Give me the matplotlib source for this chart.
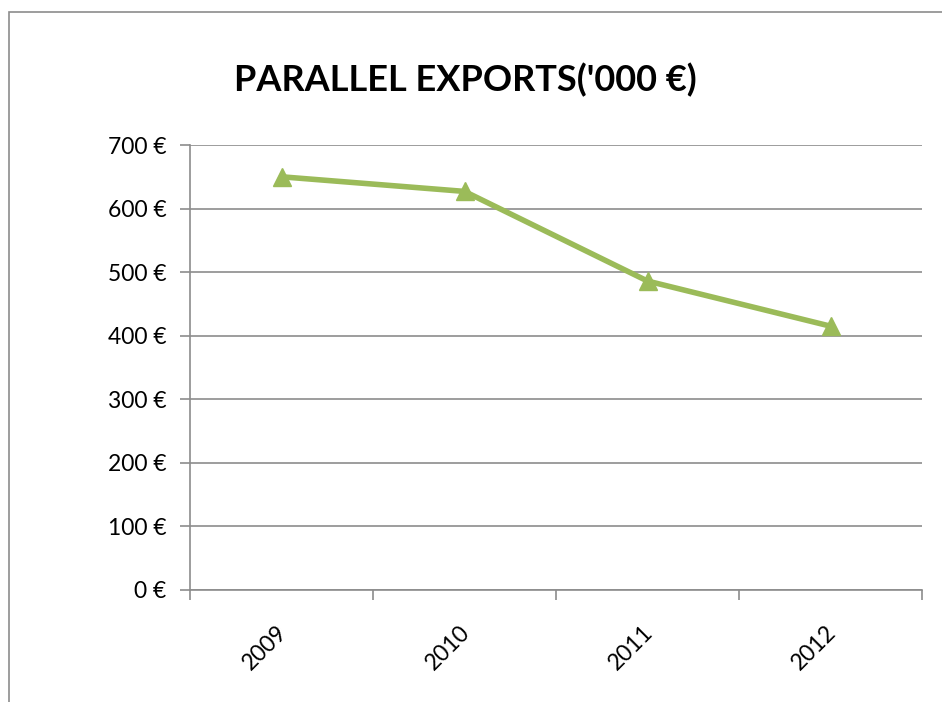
import matplotlib
matplotlib.use("Agg")
import matplotlib.pyplot as plt
import matplotlib.transforms as mtransforms
from matplotlib.patches import Rectangle

years = ["2009", "2010", "2011", "2012"]
values = [650, 627, 486, 415]
yticks = [0, 100, 200, 300, 400, 500, 600, 700]
ytick_labels = [f"{v} €" for v in yticks]
title = "PARALLEL EXPORTS('000 €)"

W, H = 942, 702
fig = plt.figure(figsize=(W / 100, H / 100), dpi=100)
fig.patch.set_facecolor("white")

# outer chart border (clipped by image edge)
fig.patches.append(Rectangle((9 / W, -0.1), 1.2, 1 - 12 / H + 0.1,
                             transform=fig.transFigure, fill=False,
                             edgecolor="#8c8c8c", linewidth=1.2))

ax = fig.add_axes([190 / W, 1 - 590 / H, (922 - 190) / W, (590 - 145) / H])
x = list(range(len(years)))
ax.plot(x, values, color="#9BBB59", linewidth=4, marker="^", markersize=13,
        markeredgecolor="#9BBB59", markerfacecolor="#9BBB59", zorder=3,
        solid_capstyle="round")

ax.set_xlim(-0.5, len(years) - 0.5)
ax.set_ylim(0, 700)
ax.set_yticks(yticks)
ax.set_yticklabels(ytick_labels, fontfamily="Lato", fontsize=16.5)
ax.set_xticks(x)
ax.set_xticklabels(years, fontfamily="Lato", fontsize=16.5, rotation=45,
                   ha="center", va="top")
ax.set_xticks([i - 0.5 for i in range(len(years) + 1)], minor=True)
ax.tick_params(axis="x", which="major", length=0, pad=23)
ax.tick_params(axis="x", which="minor", length=7, color="#8c8c8c", width=1.2)
ax.tick_params(axis="y", length=7, color="#8c8c8c", width=1.2, pad=10)
ax.grid(axis="y", color="#8c8c8c", linewidth=1.2)
ax.set_axisbelow(True)
for s in ["top", "right"]:
    ax.spines[s].set_visible(False)
for s in ["left", "bottom"]:
    ax.spines[s].set_color("#8c8c8c")
    ax.spines[s].set_linewidth(1.2)

offset = mtransforms.ScaledTranslation(-17 / 100, 0, fig.dpi_scale_trans)
for lbl in ax.get_xticklabels():
    lbl.set_transform(lbl.get_transform() + offset)

fig.text(465 / W, 1 - 80 / H, title, fontfamily="Lato", fontweight="bold",
         fontsize=26, ha="center", va="center")

fig.savefig("out.png", dpi=100)
